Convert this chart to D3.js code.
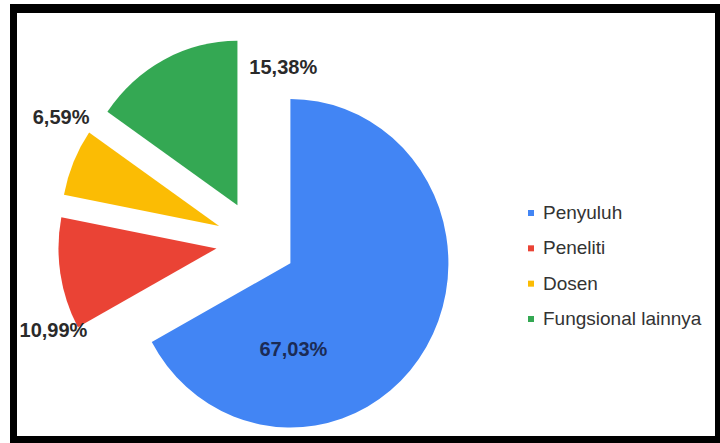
<!DOCTYPE html>
<html>
<head>
<meta charset="utf-8">
<script src="https://cdn.jsdelivr.net/npm/d3@7"></script>
<style>
  html, body { margin: 0; padding: 0; background: #fff; }
  svg { display: block; }
</style>
</head>
<body>
<svg id="chart" width="720" height="443"></svg>
<script>
// ---- data ----
const categories = ["Penyuluh", "Peneliti", "Dosen", "Fungsional lainnya"];
const values = [67.03, 10.99, 6.59, 15.38];
const valueLabels = ["67,03%", "10,99%", "6,59%", "15,38%"];
const colors = ["#4285F4", "#EA4335", "#FBBC04", "#34A853"];

// ---- layout ----
const W = 720, H = 443;
const svg = d3.select("#chart");

// frame
svg.append("rect").attr("x", 10).attr("y", 4).attr("width", W - 10).attr("height", H - 4).attr("fill", "#000");
svg.append("rect").attr("x", 17).attr("y", 13).attr("width", 698).attr("height", 423).attr("fill", "#fff");

const cx = 256, cy = 242, R = 158, explode = 40, sy = 1.04;

const pie = d3.pie().sort(null).value(d => d);
const arcs = pie(values);
const arc = d3.arc().innerRadius(0).outerRadius(R);

const g = svg.append("g").attr("transform", `translate(${cx},${cy}) scale(1,${sy})`);

function offset(d) {
  const m = (d.startAngle + d.endAngle) / 2;
  return [explode * Math.sin(m), -explode * Math.cos(m)];
}

g.selectAll("path.slice")
  .data(arcs)
  .join("path")
  .attr("class", "slice")
  .attr("d", arc)
  .attr("fill", (d, i) => colors[i])
  .attr("transform", d => { const o = offset(d); return `translate(${o[0]},${o[1]})`; });

// labels: placed relative to each slice's exploded vertex (polar, degrees clockwise from top)
const labelPlace = [
  { a: 178, r: 86, color: "#1b2b55" },
  { a: 243.6, r: 182, color: "#2a2a2a" },
  { a: 304.6, r: 192, color: "#2a2a2a" },
  { a: 18.3, r: 146, color: "#2a2a2a" }
];
const rad = Math.PI / 180;
svg.selectAll("text.vlabel")
  .data(arcs)
  .join("text")
  .attr("class", "vlabel")
  .attr("x", (d, i) => {
    const o = offset(d);
    return cx + o[0] + labelPlace[i].r * Math.sin(labelPlace[i].a * rad);
  })
  .attr("y", (d, i) => {
    const o = offset(d);
    return cy + o[1] * sy - labelPlace[i].r * Math.cos(labelPlace[i].a * rad);
  })
  .attr("dy", "0.36em")
  .attr("text-anchor", "middle")
  .attr("font-family", "'Liberation Sans', Arial, sans-serif")
  .attr("font-weight", "bold")
  .attr("font-size", 20)
  .attr("fill", (d, i) => labelPlace[i].color)
  .text((d, i) => valueLabels[i]);

// legend
const legendY = d3.scalePoint().domain(categories).range([212, 318]);
const lg = svg.append("g");
const items = lg.selectAll("g.item").data(categories).join("g").attr("class", "item")
  .attr("transform", d => `translate(528,${legendY(d)})`);
items.append("rect")
  .attr("x", 0).attr("y", -2).attr("width", 6).attr("height", 6)
  .attr("fill", (d, i) => colors[i]);
items.append("text")
  .attr("x", 15).attr("y", 0).attr("dy", "0.36em")
  .attr("font-family", "'Liberation Sans', Arial, sans-serif")
  .attr("font-size", 19)
  .attr("fill", "#333")
  .text(d => d);
</script>
</body>
</html>
